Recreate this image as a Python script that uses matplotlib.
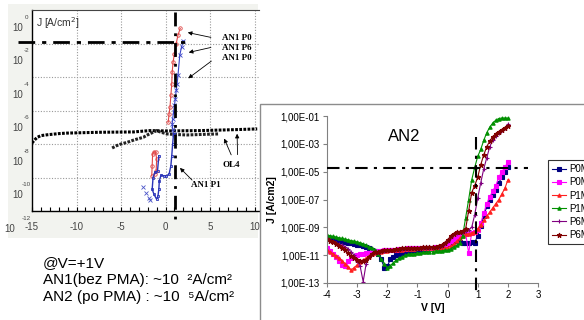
import numpy as np
import matplotlib
matplotlib.use("Agg")
import matplotlib.pyplot as plt
from matplotlib.patches import Rectangle

plt.rcParams['font.family'] = ['Liberation Sans', 'DejaVu Sans']

# ---------------- Left chart data (AN1), y in log10(J [A/cm2]) ----------------
ol4_upper_V = [-15.0, -14.7, -14.4, -14.0, -13.3, -12.0, -11.1, -9.0, -7.4, -5.5, -3.6, -1.8, 0.0, 2.0, 3.9, 6.0, 8.0, 10.3]
ol4_upper_J = [-7.94, -7.75, -7.6, -7.5, -7.45, -7.38, -7.35, -7.32, -7.3, -7.29, -7.28, -7.2, -7.22, -7.21, -7.2, -7.17, -7.14, -7.1]
ol4_lower_V = [-6.0, -5.5, -5.0, -4.3, -3.5, -2.5, -2.0, -1.4, -1.0, -0.5, 0.2, 1.0, 2.4, 3.5, 4.5, 5.9]
ol4_lower_J = [-8.24, -8.1, -8.0, -7.9, -7.75, -7.6, -7.45, -7.3, -7.2, -7.3, -7.4, -7.43, -7.46, -7.44, -7.42, -7.4]

an1_p0_red_V = [0.3, 0.4, 0.5, 0.6, 0.7, 0.75, 0.85, 1.0, 1.2, 1.4, 1.65]
an1_p0_red_J = [-6.7, -6.2, -5.8, -5.1, -4.4, -3.7, -3.1, -2.6, -2.0, -1.5, -1.1]
an1_red_low_V = [-1.55, -1.5, -1.45, -1.3, -1.1, -1.0, -1.05, -1.2]
an1_red_low_J = [-9.9, -9.3, -8.6, -8.45, -8.5, -8.9, -9.6, -9.8]

an1_p6_blue_V = [2.0, 1.8, 1.6, 1.4, 1.3, 1.2, 1.1, 1.0, 0.9, 0.8, 0.75, 0.8, 0.9]
an1_p6_blue_J = [-1.85, -2.2, -2.7, -3.9, -4.4, -4.8, -5.3, -5.7, -6.1, -6.5, -6.8, -7.1, -7.4]
an1_p1_blue_V = [0.9, 0.8, 0.7, 0.6, 0.4, 0.1, -0.2, -0.5, -0.7, -0.75, -0.85, -1.0, -1.3, -1.5, -1.4, -1.2, -0.9, -0.75]
an1_p1_blue_J = [-7.4, -8.0, -8.7, -9.3, -9.8, -9.9, -9.9, -9.85, -10.2, -10.7, -11.1, -11.3, -11.0, -10.7, -10.0, -9.7, -9.6, -8.7]
an1_x_V = [-2.5, -2.2, -1.9, -1.75]
an1_x_J = [-10.55, -10.9, -11.2, -11.35]

left_xticks = [-15, -10, -5, 0, 5, 10]
left_yexp = [0, -2, -4, -6, -8, -10, -12]

# ---------------- Right chart data (AN2), log10(J) vs V ----------------
V = np.round(np.arange(-4.0, 2.001, 0.1), 1)

p0m_a = [-9.75, -9.8, -9.85, -9.9, -9.95, -10.0, -10.05, -10.1, -10.15, -10.2,
         -10.25, -10.3, -10.35, -10.4, -10.5, -10.6, -10.7, -10.9, -11.3, -11.9,
         -11.8, -11.3, -11.1, -11.0, -10.9, -10.85, -10.8, -10.75, -10.7, -10.65,
         -10.6, -10.6, -10.55, -10.55, -10.5, -10.5, -10.5, -10.45, -10.45, -10.3,
         -10.2, -10.1, -10.0, -10.0, -10.05, -10.1, -10.1, -10.1, -10.05, -10.1,
         -9.6, -8.9, -8.2, -7.5, -7.0, -6.7, -6.3, -5.8, -5.4, -5.05, -4.65]
p0m_b = [-10.45, -10.7, -10.95, -11.15, -11.4, -11.7, -11.75, -11.4, -11.2, -11.1,
         -11.0, -10.95, -10.9, -10.85, -10.85, -10.8, -10.75, -10.7, -10.7, -10.65,
         -10.65, -10.6, -10.6, -10.6, -10.55, -10.55, -10.55, -10.5, -10.5, -10.5,
         -10.5, -10.5, -10.45, -10.45, -10.45, -10.45, -10.4, -10.4, -10.4, -10.3,
         -10.15, -10.0, -9.85, -9.7, -9.55, -9.5, -9.45, -10.85, -9.4, -9.35,
         -9.2, -8.7, -8.0, -7.3, -6.8, -6.4, -6.0, -5.4, -5.0, -4.7, -4.3]
p1m_a = [-10.6, -10.75, -10.9, -11.05, -11.2, -11.4, -11.6, -11.85, -12.05, -11.9,
         -11.7, -11.5, -11.35, -11.2, -11.05, -10.95, -10.85, -10.8, -10.75, -10.7,
         -10.7, -10.65, -10.65, -10.6, -10.6, -10.6, -10.55, -10.55, -10.55, -10.55,
         -10.5, -10.5, -10.5, -10.5, -10.5, -10.5, -10.5, -10.5, -10.5, -10.5,
         -10.45, -10.35, -10.2, -10.0, -9.8, -9.6, -9.5, -9.45, -9.4, -9.3,
         -9.1, -8.8, -8.5, -8.2, -7.9, -7.6, -7.3, -7.0, -6.6, -6.2, -5.6]
p1m_b = [-9.55, -9.6, -9.65, -9.7, -9.75, -9.8, -9.85, -9.9, -9.95, -10.0,
         -10.05, -10.1, -10.2, -10.3, -10.4, -10.5, -10.6, -10.9, -11.3, -11.6,
         -11.9, -11.75, -11.55, -11.35, -11.2, -11.1, -11.0, -10.95, -10.9, -10.9,
         -10.85, -10.85, -10.8, -10.8, -10.75, -10.75, -10.7, -10.7, -10.7, -10.65,
         -10.65, -10.55, -10.4, -10.3, -10.15, -9.6, -8.3, -7.0, -5.6, -4.7,
         -3.9, -3.4, -2.75, -2.2, -1.8, -1.5, -1.3, -1.18, -1.15, -1.15, -1.15]
p6m_a = [-9.8, -9.9, -10.0, -10.1, -10.2, -10.3, -10.4, -10.55, -10.75, -11.0,
         -11.4, -11.8, -12.9, -11.6, -11.1, -10.9, -10.8, -10.75, -10.7, -10.7,
         -10.65, -10.65, -10.6, -10.6, -10.6, -10.55, -10.55, -10.55, -10.5, -10.5,
         -10.5, -10.5, -10.45, -10.45, -10.45, -10.45, -10.4, -10.4, -10.35, -10.15,
         -9.95, -9.7, -9.5, -9.4, -9.3, -9.3, -9.25, -9.2, -9.0, -8.1,
         -6.9, -5.8, -4.8, -4.0, -3.2, -2.75, -2.45, -2.2, -2.0, -1.85, -1.6]
p6m_b = [-9.85, -9.95, -10.05, -10.2, -10.35, -10.5, -10.65, -10.85, -11.05, -11.2,
         -11.35, -11.4, -11.45, -11.35, -11.1, -10.9, -10.8, -10.75, -10.7, -10.65,
         -10.65, -10.6, -10.6, -10.55, -10.55, -10.5, -10.5, -10.5, -10.45, -10.45,
         -10.45, -10.45, -10.4, -10.4, -10.4, -10.4, -10.4, -10.35, -10.3, -10.1,
         -9.9, -9.65, -9.45, -9.35, -9.3, -9.25, -9.1, -7.8, -6.5, -6.0,
         -5.4, -4.5, -3.8, -3.2, -2.8, -2.5, -2.3, -2.15, -2.0, -1.85, -1.72]

series_labels = ["P0M", "P0M", "P1M", "P1M", "P6M", "P6M"]
series_data = [p0m_a, p0m_b, p1m_a, p1m_b, p6m_a, p6m_b]
series_colors = ["#000080", "#FF00FF", "#FF2020", "#009000", "#800080", "#800000"]
series_markers = ["s", "s", "^", "^", "+", "*"]

right_yexp = [-1, -3, -5, -7, -9, -11, -13]
right_xticks = [-4, -3, -2, -1, 0, 1, 2, 3]

W, H = 584, 320
fig = plt.figure(figsize=(W / 100, H / 100), dpi=100)
fig.patch.set_facecolor("white")

# light panel behind the left chart
fig.add_artist(Rectangle((8 / W, 1 - 238 / H), 250 / W, 234 / H, transform=fig.transFigure,
                         facecolor="#f2f3ef", edgecolor="none", zorder=-1))

# ---------------- Left chart ----------------
axL = fig.add_axes([32 / W, 1 - 211 / H, 227 / W, 201 / H], zorder=0)
axL.set_facecolor("white")
axL.set_xlim(-15, 10.5)
axL.set_ylim(-12, 0)
axL.spines["right"].set_visible(False)
axL.spines["top"].set_color("#444444")
axL.spines["top"].set_linewidth(0.8)
axL.spines["left"].set_linewidth(1.0)
axL.spines["bottom"].set_linewidth(1.0)
axL.set_xticks(left_xticks)
axL.set_xticklabels([str(t) for t in left_xticks], fontsize=7, color="#444444")
axL.set_xticks(np.arange(-15, 11, 1), minor=True)
axL.tick_params(axis="x", which="both", direction="in", length=3, pad=8, width=0.8)
axL.set_yticks([])
for g in left_xticks[1:]:
    axL.axvline(g, color="#999999", lw=0.8, ls=(0, (1, 1.5)), zorder=0)
for g in left_yexp[1:-1]:
    axL.axhline(g, color="#999999", lw=0.8, ls=(0, (1, 1.5)), zorder=0)

tr = axL.get_yaxis_transform()
for g in left_yexp:
    xs = -0.10 if g == -12 else -0.065
    axL.text(xs, g - 1.05, "10", transform=tr, fontsize=7, color="#444444", ha="center", va="center")
    axL.text(-0.025, g - 0.42, str(g), transform=tr, fontsize=4.5, color="#444444", ha="center", va="center")
axL.text(-14.55, -0.78, "J [A/cm$^2$]", fontsize=7.5, color="#333333", ha="left", va="center")

# OL4 curves (beaded black lines)
axL.plot(ol4_upper_V, ol4_upper_J, color="black", lw=2.2, ls=(0, (0.9, 0.45)), zorder=3)
axL.plot(ol4_lower_V, ol4_lower_J, color="#222222", lw=2.2, ls=(0, (0.9, 0.45)), zorder=3)

# AN1 curves
axL.plot(an1_p0_red_V, an1_p0_red_J, color="#e04848", lw=0.8, marker="o", ms=2.5, mfc="none", mew=0.6, zorder=4)
axL.plot(an1_red_low_V, an1_red_low_J, color="#e04848", lw=0.8, marker="o", ms=2.5, mfc="none", mew=0.6, zorder=4)
axL.plot(an1_p6_blue_V, an1_p6_blue_J, color="#3a44c8", lw=0.8, marker="x", ms=2.5, mew=0.6, zorder=4)
axL.plot(an1_p1_blue_V, an1_p1_blue_J, color="#2a34b8", lw=1.0, marker="s", ms=2, mfc="none", mew=0.6, zorder=4)
axL.plot(an1_x_V, an1_x_J, color="#4a54c8", lw=0, marker="x", ms=2.8, mew=0.6, zorder=4)

# reference lines
axL.plot([-16.6, 2.5], [-1.9, -1.9], color="black", lw=2.0, ls=(0, (6, 2.5, 1.5, 2.5)), clip_on=False, zorder=5)
axL.plot([1.1, 1.1], [-0.1, -12.6], color="black", lw=2.0, ls=(0, (5, 2.5, 1, 2.5)), clip_on=False, zorder=5)

# annotations
ann = dict(fontsize=6.5, fontweight="bold", family=["Liberation Serif", "DejaVu Serif"], ha="center", va="center")
axL.text(8.03, -1.67, "AN1 P0", **ann)
axL.text(8.03, -2.27, "AN1 P6", **ann)
axL.text(8.03, -2.87, "AN1 P0", **ann)
axL.text(7.4, -9.25, "OL4", **ann)
axL.text(4.5, -10.45, "AN1 P1", **ann)
ap = dict(arrowstyle="-|>", color="black", lw=0.6, mutation_scale=6)
axL.annotate("", xy=(2.19, -1.31), xytext=(5.4, -1.67), arrowprops=ap)
axL.annotate("", xy=(2.30, -2.57), xytext=(5.4, -2.2), arrowprops=ap)
axL.annotate("", xy=(2.30, -4.18), xytext=(5.4, -2.95), arrowprops=ap)
axL.annotate("", xy=(6.46, -7.52), xytext=(7.5, -8.8), arrowprops=ap)
axL.annotate("", xy=(8.03, -7.22), xytext=(8.1, -8.8), arrowprops=ap)
axL.annotate("", xy=(1.4, -9.31), xytext=(3.2, -10.27), arrowprops=ap)

# text block below left chart
fig.text(43 / W, 1 - 263 / H, "@V=+1V", fontsize=11, ha="left", va="center")
fig.text(43 / W, 1 - 280 / H, "AN1(bez PMA): ~10  ²A/cm²", fontsize=11, ha="left", va="center")
fig.text(43 / W, 1 - 297 / H, "AN2 (po PMA) : ~10  ⁵A/cm²", fontsize=11, ha="left", va="center")

# ---------------- Right chart panel ----------------
fig.add_artist(Rectangle((260 / W, -0.02), 0.6, 1 - 104 / H + 0.02, transform=fig.transFigure,
                         facecolor="white", edgecolor="#8c8c8c", lw=1.0, zorder=1))

axR = fig.add_axes([327 / W, 1 - 283 / H, 211 / W, 167 / H], zorder=2)
axR.set_facecolor("none")
handles = []
for lab, d, c, m in zip(series_labels, series_data, series_colors, series_markers):
    ms = 3.5 if m in ("+", "*") else 2.4
    h, = axR.semilogy(V, 10 ** np.array(d), color=c, lw=0.8, marker=m, ms=ms, mew=0.8, label=lab)
    handles.append(h)
axR.set_xlim(-4, 3)
axR.set_ylim(1e-13, 1e-1)
axR.set_yticks([10.0 ** e for e in right_yexp])
axR.set_yticklabels(["1,00E-%02d" % (-e) for e in right_yexp], fontsize=7)
axR.minorticks_off()
axR.set_xticks(right_xticks)
axR.set_xticklabels([str(t) for t in right_xticks], fontsize=7)
axR.tick_params(direction="out", length=3, width=0.8, color="#808080", pad=2)
for s in ["top", "right"]:
    axR.spines[s].set_visible(False)
for s in ["left", "bottom"]:
    axR.spines[s].set_color("#808080")
    axR.spines[s].set_linewidth(0.8)
axR.set_ylabel("J [A/cm2]", fontsize=7.5, fontweight="bold", labelpad=3)
axR.set_xlabel("V [V]", fontsize=7.5, fontweight="bold", labelpad=2)
axR.text(-1.45, 10 ** -2.5, "AN2", fontsize=12, ha="center", va="center")

axR.plot([-4, 2.68], [10 ** -4.74, 10 ** -4.74], color="black", lw=1.5,
         ls=(0, (6, 3, 1.5, 3)), clip_on=False, zorder=5)
axR.plot([0.95, 0.95], [10 ** -2.5, 10 ** -13.6], color="black", lw=1.5,
         ls=(0, (6, 3, 1.5, 3)), clip_on=False, zorder=5)

leg = fig.legend(handles=handles, loc="upper left", bbox_to_anchor=(548 / W, 1 - 160 / H),
                 fontsize=7, frameon=True, fancybox=False, edgecolor="black",
                 handlelength=1.4, borderpad=0.45, labelspacing=0.32, handletextpad=0.3,
                 borderaxespad=0)
leg.get_frame().set_linewidth(0.8)
leg.set_zorder(3)

fig.savefig("out.png", dpi=100)
